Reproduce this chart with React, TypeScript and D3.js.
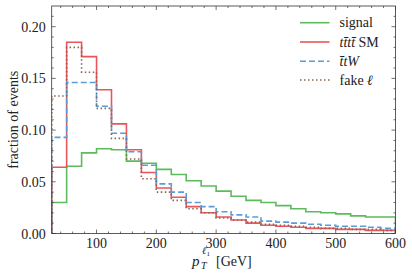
import React, { useEffect, useRef } from 'react';
import * as d3 from 'd3';

// bin edges 25..600 GeV, width 25
const binEdges = d3.range(25, 601, 25);
const signal = [0.030, 0.065, 0.078, 0.082, 0.081, 0.070, 0.068, 0.062, 0.057, 0.051, 0.046, 0.041, 0.036, 0.032, 0.030, 0.027, 0.024, 0.021, 0.020, 0.019, 0.017, 0.016, 0.016];
const ttttSM = [0.064, 0.185, 0.171, 0.139, 0.106, 0.081, 0.059, 0.044, 0.035, 0.026, 0.020, 0.016, 0.013, 0.010, 0.008, 0.007, 0.006, 0.005, 0.005, 0.004, 0.004, 0.003, 0.003];
const ttW = [0.093, 0.146, 0.146, 0.123, 0.097, 0.079, 0.066, 0.048, 0.040, 0.030, 0.026, 0.021, 0.018, 0.016, 0.012, 0.011, 0.010, 0.009, 0.008, 0.007, 0.007, 0.006, 0.005];
const fakeLep = [0.133, 0.180, 0.156, 0.121, 0.092, 0.072, 0.053, 0.040, 0.032, 0.024, 0.020, 0.015, 0.013, 0.011, 0.009, 0.008, 0.007, 0.006, 0.005, 0.005, 0.004, 0.004, 0.003];

const xMajor = [100, 200, 300, 400, 500, 600];
const xMinor = d3.range(40, 600, 20).filter(v => v % 100 !== 0);
const yMajor = [0, 0.05, 0.10, 0.15, 0.20];
const yMinor = d3.range(1, 22).map(i => i / 100).filter(v => Math.round(v * 100) % 5 !== 0);

const series = [
    { label: 'signal', values: signal, color: '#5dba5d', dash: null },
    { label: 'tttt', values: ttttSM, color: '#e8565b', dash: null },
    { label: 'ttW', values: ttW, color: '#5b9dd6', dash: '6,3' },
    { label: 'fake', values: fakeLep, color: '#8c6450', dash: '1.5,2.5' }
];

const App = () => {
    const ref = useRef<SVGSVGElement>(null);

    useEffect(() => {
        const svg = d3.select(ref.current);
        svg.selectAll('*').remove();
        const W = 412, H = 279;
        const margin = { top: 6, right: 16.5, bottom: 45.5, left: 51.7 };
        const width = W - margin.left - margin.right;
        const height = H - margin.top - margin.bottom;
        const font = 'Liberation Serif';

        const x = d3.scaleLinear().domain([25, 600]).range([0, width]);
        const y = d3.scaleLinear().domain([0, 0.22]).range([height, 0]);

        const g = svg.append('g').attr('transform', 'translate(' + margin.left + ',' + margin.top + ')');

        g.append('clipPath').attr('id', 'clip')
            .append('rect').attr('width', width).attr('height', height);

        const line: any = d3.line()
            .x((d: any) => x(d[0]))
            .y((d: any) => y(d[1]))
            .curve(d3.curveStepAfter);

        series.forEach(s => {
            const pts: any[] = [[25, 0]];
            s.values.forEach((v, i) => pts.push([binEdges[i], v]));
            pts.push([600, s.values[s.values.length - 1]]);
            pts.push([600, 0]);
            const p = g.append('path')
                .attr('clip-path', 'url(#clip)')
                .attr('d', line(pts))
                .attr('fill', 'none')
                .attr('stroke', s.color)
                .attr('stroke-width', 1.6);
            if (s.dash) p.attr('stroke-dasharray', s.dash);
        });

        // frame
        g.append('rect').attr('width', width).attr('height', height)
            .attr('fill', 'none').attr('stroke', '#333').attr('stroke-width', 0.8);

        const tickCol = '#333';
        const xt = (v: number, len: number) => {
            g.append('line').attr('x1', x(v)).attr('x2', x(v)).attr('y1', height).attr('y2', height - len).attr('stroke', tickCol).attr('stroke-width', 0.7);
            g.append('line').attr('x1', x(v)).attr('x2', x(v)).attr('y1', 0).attr('y2', len).attr('stroke', tickCol).attr('stroke-width', 0.7);
        };
        const yt = (v: number, len: number) => {
            g.append('line').attr('x1', 0).attr('x2', len).attr('y1', y(v)).attr('y2', y(v)).attr('stroke', tickCol).attr('stroke-width', 0.7);
            g.append('line').attr('x1', width).attr('x2', width - len).attr('y1', y(v)).attr('y2', y(v)).attr('stroke', tickCol).attr('stroke-width', 0.7);
        };
        xMajor.forEach(v => xt(v, 4));
        xMinor.forEach(v => xt(v, 2));
        yMajor.forEach(v => yt(v, 4));
        yMinor.forEach(v => yt(v, 2));

        g.selectAll('.xl').data(xMajor).enter().append('text')
            .attr('x', (d: number) => x(d)).attr('y', height + 14)
            .attr('text-anchor', 'middle')
            .attr('font-family', font).attr('font-size', 14).attr('fill', '#222')
            .text((d: number) => d);

        g.selectAll('.yl').data(yMajor).enter().append('text')
            .attr('x', -6).attr('y', (d: number) => y(d) + 5)
            .attr('text-anchor', 'end')
            .attr('font-family', font).attr('font-size', 14).attr('fill', '#222')
            .text((d: number) => d3.format('.2f')(d));

        // axis titles
        svg.append('text')
            .attr('transform', 'translate(18,' + (margin.top + height / 2) + ') rotate(-90)')
            .attr('text-anchor', 'middle')
            .attr('font-family', font).attr('font-size', 14).attr('fill', '#222')
            .text('fraction of events');

        const xl = svg.append('g').attr('font-family', font).attr('fill', '#222');
        xl.append('text').attr('x', 192).attr('y', 266).attr('font-size', 15).attr('font-style', 'italic').text('p');
        xl.append('text').attr('x', 202).attr('y', 254).attr('font-size', 10).attr('font-style', 'italic').text('ℓ');
        xl.append('text').attr('x', 206.5).attr('y', 256).attr('font-size', 7).text('1');
        xl.append('text').attr('x', 201).attr('y', 269).attr('font-size', 10).attr('font-style', 'italic').text('T');
        xl.append('text').attr('x', 216).attr('y', 266).attr('font-size', 14).text('[GeV]');

        // legend
        const legend = svg.append('g');
        const rows = [22.7, 42, 61.3, 80];
        series.forEach((s, i) => {
            const l = legend.append('line')
                .attr('x1', 300).attr('x2', 329.5).attr('y1', rows[i]).attr('y2', rows[i])
                .attr('stroke', s.color).attr('stroke-width', 1.6);
            if (s.dash) l.attr('stroke-dasharray', s.dash);
            const t = legend.append('text').attr('x', 339.5).attr('y', rows[i] + 4.5)
                .attr('font-family', font).attr('font-size', 14).attr('fill', '#222');
            if (s.label === 'signal') t.text('signal');
            else if (s.label === 'tttt') {
                t.append('tspan').attr('font-style', 'italic').text('tt\u0304tt\u0304');
                t.append('tspan').text(' SM');
            } else if (s.label === 'ttW') {
                t.append('tspan').attr('font-style', 'italic').text('t\u0304tW');
            } else {
                t.append('tspan').text('fake ');
                t.append('tspan').attr('font-style', 'italic').text('ℓ');
            }
        });
    }, []);

    return (
        <div style={{ position: 'fixed', left: 0, top: 0 }}>
            <svg ref={ref} width={412} height={279} style={{ display: 'block', background: '#fff' }} />
        </div>
    );
};

export default App;
